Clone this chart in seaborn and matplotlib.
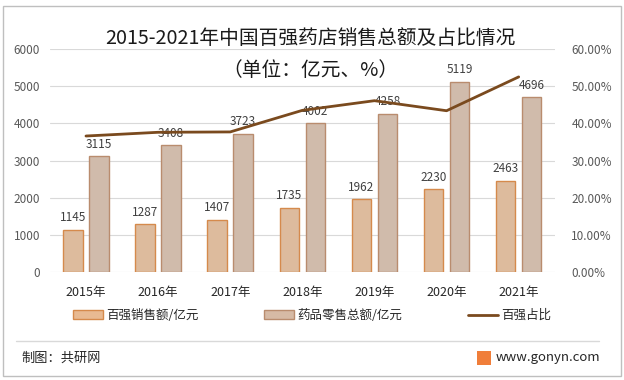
import numpy as np
import pandas as pd
import matplotlib
matplotlib.use("Agg")
import matplotlib.pyplot as plt
import seaborn as sns
from matplotlib.patches import Patch, Rectangle
from matplotlib.lines import Line2D
from matplotlib.ticker import PercentFormatter

# 数据
years = ["2015年", "2016年", "2017年", "2018年", "2019年", "2020年", "2021年"]
top100_sales = [1145, 1287, 1407, 1735, 1962, 2230, 2463]
retail_total = [3115, 3408, 3723, 4002, 4258, 5119, 4696]
top100_share = [36.6, 37.6, 37.7, 43.5, 46.1, 43.4, 52.5]

series_names = ["百强销售额/亿元", "药品零售总额/亿元", "百强占比"]
bar_colors = ["#E8BA92", "#D6BAA5"]
edge_colors = ["#D58A4C", "#B98C6E"]
line_color = "#7A4A1E"

sns.set_theme(style="white")
plt.rcParams["font.family"] = ["Noto Sans CJK SC", "DejaVu Sans"]

df = pd.DataFrame({
    "year": years * 2,
    "value": top100_sales + retail_total,
    "series": [series_names[0]] * len(years) + [series_names[1]] * len(years),
})

fig = plt.figure(figsize=(6.24, 3.8), dpi=100)
ax = fig.add_axes([0.08, 0.284, 0.809, 0.587])

sns.barplot(data=df, x="year", y="value", hue="series", hue_order=series_names[:2],
            palette=bar_colors, width=0.72, gap=0.25, ax=ax, legend=False)

for bars, ec in zip(ax.containers, edge_colors):
    for b in bars:
        b.set_edgecolor(ec)
        b.set_linewidth(1)
    ax.bar_label(bars, fmt="%d", padding=4, fontsize=8.5, color="#404040")

ax.set_ylim(0, 6000)
ax.set_yticks(range(0, 6001, 1000))
ax.set_xlim(-0.5, 6.5)
ax.grid(axis="y", color="#D9D9D9", linewidth=0.8)
ax.set_axisbelow(True)
for s in ax.spines.values():
    s.set_visible(False)
ax.set_xlabel("")
ax.set_ylabel("")
ax.tick_params(axis="y", labelsize=8.5, labelcolor="#595959", length=0, pad=7)
ax.tick_params(axis="x", labelsize=9, labelcolor="#262626", length=0, pad=10)

ax2 = ax.twinx()
sns.lineplot(x=np.arange(len(years)), y=top100_share, color=line_color, linewidth=2.0, ax=ax2)
ax2.set_ylim(0, 60)
ax2.set_yticks(range(0, 61, 10))
ax2.yaxis.set_major_formatter(PercentFormatter(decimals=2))
ax2.tick_params(axis="y", labelsize=8.5, labelcolor="#595959", length=0, pad=12)
for s in ax2.spines.values():
    s.set_visible(False)
ax2.set_xlim(-0.5, 6.5)

# 标题
fig.text(0.497, 0.9, "2015-2021年中国百强药店销售总额及占比情况", ha="center", va="center",
         fontsize=14.2, color="#1a1a1a")
fig.text(0.497, 0.815, "（单位：亿元、%）", ha="center", va="center", fontsize=14.2, color="#1a1a1a")

# 图例
handles = [
    Patch(facecolor=bar_colors[0], edgecolor=edge_colors[0]),
    Patch(facecolor=bar_colors[1], edgecolor=edge_colors[1]),
    Line2D([0], [0], color=line_color, linewidth=2.0),
]
fig.legend(handles, series_names, loc="center", bbox_to_anchor=(0.5, 0.17), ncol=3,
           frameon=False, fontsize=9, columnspacing=5.2, handlelength=2.4, handletextpad=0.3)

# 底部
fig.add_artist(Line2D([0.025, 0.96], [0.103, 0.103], color="#D9D9D9", linewidth=1,
                      transform=fig.transFigure))
fig.add_artist(Rectangle((0.005, 0.01), 0.99, 0.975, fill=False, edgecolor="#BFBFBF",
                         linewidth=1, transform=fig.transFigure))
fig.text(0.035, 0.058, "制图：共研网", ha="left", va="center", fontsize=9.5, color="#262626")
fig.add_artist(Rectangle((0.765, 0.04), 0.022, 0.036, facecolor="#F07E3A", edgecolor="none",
                         transform=fig.transFigure))
fig.text(0.795, 0.058, "www.gonyn.com", ha="left", va="center", fontsize=9.5, color="#262626")

fig.savefig("out.png", dpi=100)
